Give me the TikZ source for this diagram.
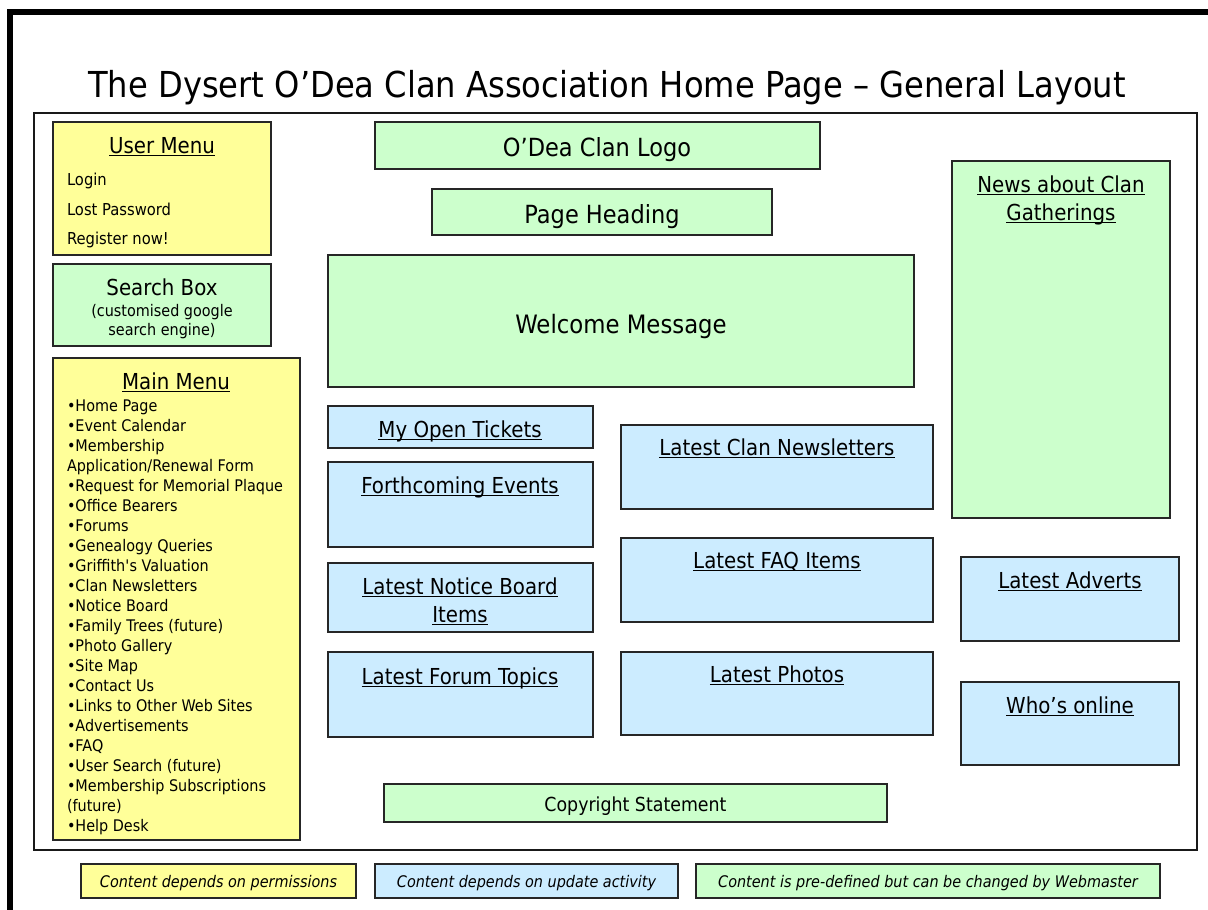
\documentclass[tikz,border=0pt]{standalone}
\usepackage{fontspec}
\setmainfont{DejaVu Sans}[FakeStretch=0.9]
\definecolor{cyel}{HTML}{FFFF99}
\definecolor{cgrn}{HTML}{CCFFCC}
\definecolor{cblu}{HTML}{CCECFF}
\newcommand\uln[1]{\begingroup\setbox0\hbox{#1}\rlap{\rule[-2.4pt]{\wd0}{0.8pt}}\box0\endgroup}
\newcommand\fsz[1]{\fontsize{#1}{#1}\selectfont}
\newcommand\panel[6]{\node[panel, fill=#6, minimum width={(#4-#2)*0.75pt}, minimum height={(#5-#3)*0.75pt}] (#1) at ({(#2+#4)/2},{(#3+#5)/2}) {};}
\tikzset{
  panel/.style={draw=black!85, line width=1.3pt, inner sep=0pt, outer sep=0pt},
  lbl/.style={inner sep=0pt, outer sep=0pt, anchor=base},
  lblw/.style={inner sep=0pt, outer sep=0pt, anchor=base west},
}
\begin{document}
\begin{tikzpicture}[x=0.75pt,y=-0.75pt]
\useasboundingbox (0,0) rectangle (1208,910);
\clip (0,0) rectangle (1208,910);
\fill[white] (0,0) rectangle (1208,910);
% outer frame and page
\draw[line width=4.5pt] (10,12) rectangle (1260,960);
\node[draw=black!90, line width=1.7pt, inner sep=0pt, minimum width={(1197-34)*0.75pt}, minimum height={(850-113)*0.75pt}] (page) at ({(34+1197)/2},{(113+850)/2}) {};
% title
\node[lbl] (title) at (607,97) {\fsz{26.8}The Dysert O’Dea Clan Association Home Page – General Layout};
% panels
\panel{usermenu}{53}{122}{271}{255}{cyel}
\panel{search}{53}{264}{271}{346}{cgrn}
\panel{mainmenu}{53}{358}{300}{840}{cyel}
\panel{logo}{375}{122}{820}{169}{cgrn}
\panel{heading}{432}{189}{772}{235}{cgrn}
\panel{welcome}{328}{255}{914}{387}{cgrn}
\panel{tickets}{328}{406}{593}{448}{cblu}
\panel{events}{328}{462}{593}{547}{cblu}
\panel{notice}{328}{563}{593}{632}{cblu}
\panel{forum}{328}{652}{593}{737}{cblu}
\panel{newsletters}{621}{425}{933}{509}{cblu}
\panel{faq}{621}{538}{933}{622}{cblu}
\panel{photos}{621}{652}{933}{735}{cblu}
\panel{news}{952}{161}{1170}{518}{cgrn}
\panel{adverts}{961}{557}{1179}{641}{cblu}
\panel{online}{961}{682}{1179}{765}{cblu}
\panel{copyright}{384}{784}{887}{822}{cgrn}
\panel{legA}{81}{864}{356}{898}{cyel}
\panel{legB}{375}{864}{678}{898}{cblu}
\panel{legC}{696}{864}{1160}{898}{cgrn}
% user menu
\node[lbl] (umT) at (162,153) {\fsz{16.5}\uln{User Menu}};
\node[lblw] (um1) at (67,185) {\fsz{12.3}Login};
\node[lblw] (um2) at (67,215) {\fsz{12.3}Lost Password};
\node[lblw] (um3) at (67,244) {\fsz{12.3}Register now!};
% search
\node[lbl] (srT) at (162,295) {\fsz{16.5}Search Box};
\node[lbl] (sr1) at (162,316) {\fsz{12}(customised google};
\node[lbl] (sr2) at (162,335) {\fsz{12}search engine)};
% main menu
\node[lbl] (mmT) at (176,389) {\fsz{16.5}\uln{Main Menu}};
\foreach \t [count=\i] in {{•Home Page},{•Event Calendar},{•Membership},{Application/Renewal Form},{•Request for Memorial Plaque},{•Office Bearers},{•Forums},{•Genealogy Queries},{•Griffith\textquotesingle s Valuation},{•Clan Newsletters},{•Notice Board},{•Family Trees (future)},{•Photo Gallery},{•Site Map},{•Contact Us},{•Links to Other Web Sites},{•Advertisements},{•FAQ},{•User Search (future)},{•Membership Subscriptions},{(future)},{•Help Desk}}
  \node[lblw] (mm\i) at (67,{391+20*\i}) {\fsz{12}\t};
% centre
\node[lbl] (logoT) at (597,156) {\fsz{18.75}O’Dea Clan Logo};
\node[lbl] (headT) at (602,223) {\fsz{18.75}Page Heading};
\node[lbl] (welT) at (621,333) {\fsz{19}Welcome Message};
\node[lbl] (tickT) at (460,437) {\fsz{16.5}\uln{My Open Tickets}};
\node[lbl] (evT) at (460,493) {\fsz{16.5}\uln{Forthcoming Events}};
\node[lbl] (noT1) at (460,594) {\fsz{16.5}\uln{Latest Notice Board}};
\node[lbl] (noT2) at (460,622) {\fsz{16.5}\uln{Items}};
\node[lbl] (foT) at (460,684) {\fsz{16.5}\uln{Latest Forum Topics}};
\node[lbl] (nlT) at (777,455) {\fsz{16.5}\uln{Latest Clan Newsletters}};
\node[lbl] (faqT) at (777,568) {\fsz{16.5}\uln{Latest FAQ Items}};
\node[lbl] (phT) at (777,682) {\fsz{16.5}\uln{Latest Photos}};
\node[lbl] (nwT1) at (1061,192) {\fsz{16.5}\uln{News about Clan}};
\node[lbl] (nwT2) at (1061,220) {\fsz{16.5}\uln{Gatherings}};
\node[lbl] (adT) at (1070,588) {\fsz{16.5}\uln{Latest Adverts}};
\node[lbl] (onT) at (1070,713) {\fsz{16.5}\uln{Who’s online}};
\node[lbl] (cpT) at (635.5,811) {\fsz{14.5}Copyright Statement};
% legend
\node[lbl] (lgA) at (218.5,887) {\fsz{12}\itshape Content depends on permissions};
\node[lbl] (lgB) at (526.5,887) {\fsz{12}\itshape Content depends on update activity};
\node[lbl] (lgC) at (928,887) {\fsz{12}\itshape Content is pre-defined but can be changed by Webmaster};
\end{tikzpicture}
\end{document}
